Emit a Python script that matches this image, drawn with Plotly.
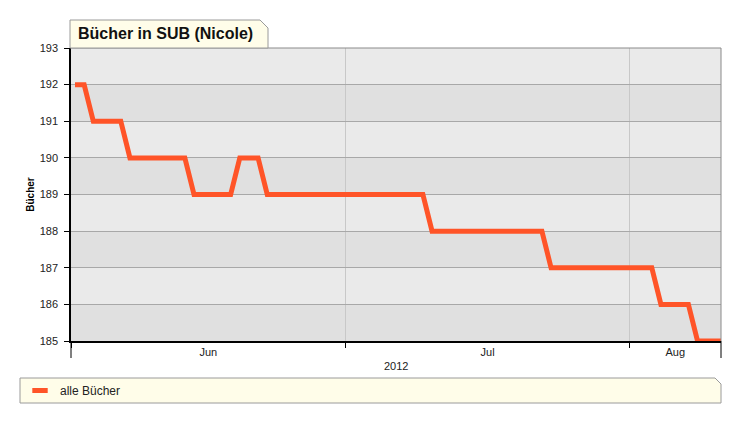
import pandas as pd
import plotly.graph_objects as go

# daily stock of books, 1 Jun - 10 Aug 2012
start_day = '2012-06-01'
values = [192, 192, 191, 191, 191, 191, 190, 190, 190, 190,
          190, 190, 190, 189, 189, 189, 189, 189, 190, 190,
          190, 189, 189, 189, 189, 189, 189, 189, 189, 189,
          189, 189, 189, 189, 189, 189, 189, 189, 189, 188,
          188, 188, 188, 188, 188, 188, 188, 188, 188, 188,
          188, 188, 187, 187, 187, 187, 187, 187, 187, 187,
          187, 187, 187, 187, 186, 186, 186, 186, 185, 185,
          185, 185]
y_ticks = [185, 186, 187, 188, 189, 190, 191, 192, 193]
month_starts = ['2012-06-01', '2012-07-01', '2012-08-01']
month_label_pos = ['2012-06-16', '2012-07-16 12:00', '2012-08-06']
month_labels = ['Jun', 'Jul', 'Aug']
series_name = 'alle Bücher'
title_text = 'Bücher in SUB (Nicole)'
y_title = 'Bücher'
year_label = '2012'

dates = pd.date_range(start_day + ' 10:30', periods=len(values), freq='D')

W, H = 741, 423
L, R, T, B = 71, 721, 48, 341
FONT = 'Arial, Liberation Sans, sans-serif'
LINE_COLOR = '#ff5428'
BOX_FILL = '#fffde9'
BOX_LINE = '#9a9a9a'


def px_x(x):
    return (x - L) / (R - L)


def px_y(y):
    return (B - y) / (B - T)


def tab_path(x0, y0, x1, y1, cut):
    # box with the top right corner cut off
    return (f'M {px_x(x0)},{px_y(y1)} L {px_x(x0)},{px_y(y0)} '
            f'L {px_x(x1 - cut)},{px_y(y0)} L {px_x(x1)},{px_y(y0 + cut)} '
            f'L {px_x(x1)},{px_y(y1)} Z')


fig = go.Figure()
fig.add_trace(go.Scatter(x=dates, y=values, mode='lines', name=series_name,
                         line=dict(color=LINE_COLOR, width=5), showlegend=False))
# legend entry with a short line sample
fig.add_trace(go.Scatter(x=[None], y=[None], mode='markers', name=series_name,
                         marker=dict(symbol='line-ew', size=11,
                                     line=dict(color=LINE_COLOR, width=5))))

shapes = []
# alternating bands
for i, lo in enumerate(y_ticks[:-1]):
    if i % 2 == 0:
        shapes.append(dict(type='rect', xref='paper', yref='y', x0=0, x1=1,
                           y0=lo, y1=lo + 1, fillcolor='#e0e0e0',
                           line=dict(width=0), layer='below'))
# top and right border
shapes.append(dict(type='line', xref='paper', yref='paper', x0=0, x1=1, y0=1, y1=1,
                   line=dict(color='#8a8a8a', width=1)))
shapes.append(dict(type='line', xref='paper', yref='paper', x0=1, x1=1, y0=0, y1=1,
                   line=dict(color='#8a8a8a', width=1)))
# separators below the axis
for xx in (L, R):
    shapes.append(dict(type='line', xref='paper', yref='paper', x0=px_x(xx), x1=px_x(xx),
                       y0=0, y1=px_y(358), line=dict(color='#000000', width=1)))
# title tab
shapes.append(dict(type='path', xref='paper', yref='paper',
                   path=tab_path(70, 20, 268, 48, 8),
                   fillcolor=BOX_FILL, line=dict(color=BOX_LINE, width=1)))
# legend box
shapes.append(dict(type='path', xref='paper', yref='paper',
                   path=tab_path(20, 378, 721, 403, 6),
                   fillcolor=BOX_FILL, line=dict(color=BOX_LINE, width=1)))

fig.update_layout(
    width=W, height=H,
    margin=dict(l=L, r=W - R, t=T, b=H - B),
    paper_bgcolor='white',
    plot_bgcolor='#eaeaea',
    font=dict(family=FONT, size=11, color='#222222'),
    shapes=shapes,
    showlegend=True,
    legend=dict(x=px_x(20), y=px_y(376), xanchor='left', yanchor='top',
                orientation='h', bgcolor='rgba(0,0,0,0)',
                font=dict(family=FONT, size=12, color='#222222')),
    annotations=[
        dict(text=f'<b>{title_text}</b>', xref='paper', yref='paper',
             x=px_x(76), y=px_y(34), xanchor='left', yanchor='middle',
             showarrow=False, font=dict(family=FONT, size=16, color='#111111')),
        dict(text=year_label, xref='paper', yref='paper',
             x=0.5, y=px_y(366), xanchor='center', yanchor='middle',
             showarrow=False, font=dict(family=FONT, size=11, color='#222222')),
    ],
)

fig.update_xaxes(
    range=['2012-06-01', '2012-08-11'],
    tickvals=month_label_pos, ticktext=month_labels, ticks='', showgrid=False,
    minor=dict(tickvals=month_starts, ticks='outside', ticklen=5, tickcolor='#000000',
               showgrid=True, gridcolor='#c8c8c8', gridwidth=1),
    showline=True, linecolor='#000000', linewidth=1.5,
    zeroline=False,
)
fig.update_yaxes(
    range=[185, 193], tickvals=y_ticks,
    showgrid=True, gridcolor='#a8a8a8', gridwidth=1,
    showline=True, linecolor='#000000', linewidth=1.5,
    ticks='outside', ticklen=5, tickcolor='#000000',
    ticklabelstandoff=4,
    zeroline=False,
    title=dict(text=f'<b>{y_title}</b>', font=dict(family=FONT, size=10, color='#000000'),
               standoff=3),
)

fig.write_html('out.html', config={'displayModeBar': False},
               post_script="document.body.style.margin = '0';")
